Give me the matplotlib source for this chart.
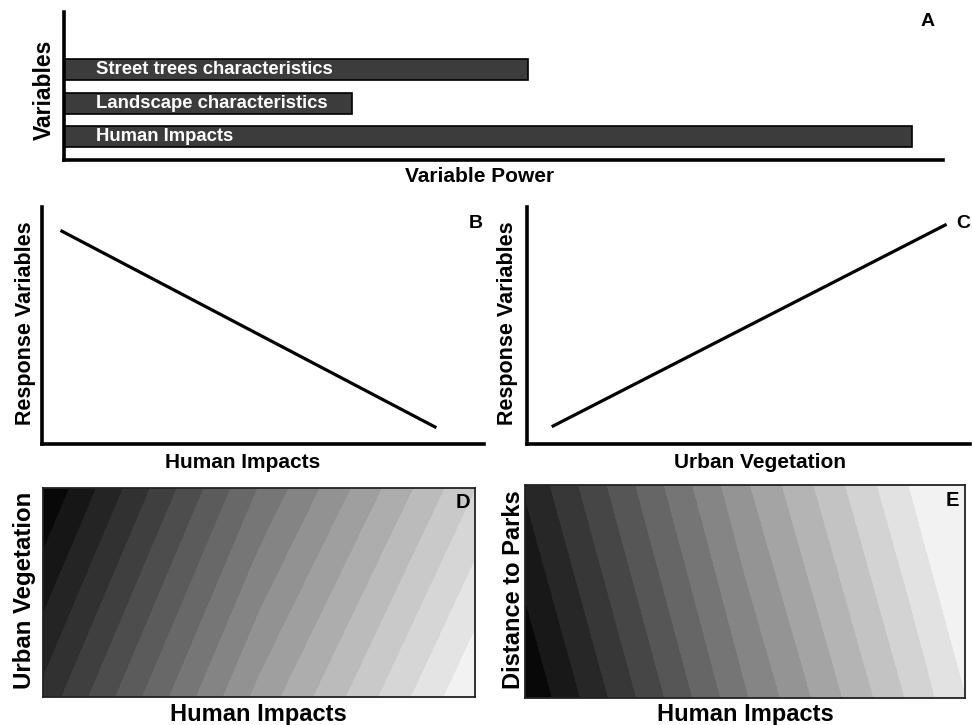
import numpy as np
import matplotlib
matplotlib.use("Agg")
import matplotlib.pyplot as plt
from matplotlib.colors import LinearSegmentedColormap

# panel A - bars
variables = ["Human Impacts", "Landscape characteristics", "Street trees characteristics"]
variable_power = [96.5, 32.8, 52.8]

# panel B / C - conceptual lines
b_x = [0.045, 0.889]
b_y = [0.898, 0.072]
c_x = [0.059, 0.944]
c_y = [0.076, 0.924]

# panel D - surface in band units, read at a few columns
d_x = [0, 0.5, 1]
d_y = [0, 1]
d_z = [[3.3, 11.32, 17.95],   # bottom row
       [0.0, 8.04, 14.95]]    # top row

# panel E - surface in band units
e_x = [0, 0.5, 0.873, 1]
e_y = [0, 1]
e_z = [[0.02, 7.86, 13.13, 14.97],
       [2.12, 9.83, 15.0, 15.95]]

W, H = 972, 725
bold = ["Liberation Sans", "DejaVu Sans"]
greys = LinearSegmentedColormap.from_list("greys", ["#080808", "#f2f2f2"])


def box(l, t, r, b):
    return [l / W, 1 - b / H, (r - l) / W, (b - t) / H]


def ftext(x, y, s, **kw):
    fig.text(x / W, 1 - y / H, s, ha="center", va="center", fontweight="bold",
             family=bold, **kw)


fig = plt.figure(figsize=(9.72, 7.25), dpi=100)

# A
axA = fig.add_axes(box(64, 12, 943, 160))
ypos = np.arange(len(variables))
axA.barh(ypos, variable_power, height=0.63, color="#3c3c3c", edgecolor="black", linewidth=1.2)
for i, name in enumerate(variables):
    axA.text(3.6, ypos[i], name, color="white", fontsize=13.3, fontweight="bold",
             family=bold, va="center", ha="left")
axA.set_xlim(0, 100)
axA.set_ylim(-0.70, 3.72)

# B
axB = fig.add_axes(box(42, 207, 484, 444))
axB.plot(b_x, b_y, color="black", lw=2.3)
axB.set_xlim(0, 1)
axB.set_ylim(0, 1)

# C
axC = fig.add_axes(box(527, 207, 970, 444))
axC.plot(c_x, c_y, color="black", lw=2.3)
axC.set_xlim(0, 1)
axC.set_ylim(0, 1)

for ax in (axA, axB, axC):
    ax.set_xticks([])
    ax.set_yticks([])
    for s in ("top", "right"):
        ax.spines[s].set_visible(False)
    for s in ("left", "bottom"):
        ax.spines[s].set_linewidth(2.6)

# D
axD = fig.add_axes(box(43, 488, 475, 697))
axD.contourf(d_x, d_y, d_z, levels=np.arange(0, 19, 1), cmap=greys, vmin=0.5, vmax=17.5)
axD.set_xlim(0, 1)
axD.set_ylim(0, 1)
# E
axE = fig.add_axes(box(525, 485, 965, 698))
axE.contourf(e_x, e_y, e_z, levels=np.arange(0, 17, 1), cmap=greys, vmin=0.5, vmax=15.5)
axE.set_xlim(0, 1)
axE.set_ylim(0, 1)
for ax in (axD, axE):
    ax.set_xticks([])
    ax.set_yticks([])
    for s in ax.spines.values():
        s.set_linewidth(1.3)
        s.set_color("#222222")

# labels
ftext(480, 176, "Variable Power", fontsize=15)
ftext(44, 90, "Variables", fontsize=16.5, rotation=90)
ftext(928, 22, "A", fontsize=14)

ftext(25, 323, "Response Variables", fontsize=15.5, rotation=90)
ftext(243, 462, "Human Impacts", fontsize=15)
ftext(476, 223, "B", fontsize=14)

ftext(508, 323, "Response Variables", fontsize=15.5, rotation=90)
ftext(760, 462, "Urban Vegetation", fontsize=15)
ftext(963, 223, "C", fontsize=14)

ftext(25, 590, "Urban Vegetation", fontsize=17.3, rotation=90)
ftext(258, 714, "Human Impacts", fontsize=17)
ftext(463, 502, "D", fontsize=14.5)

ftext(513, 590, "Distance to Parks", fontsize=17, rotation=90)
ftext(745, 714, "Human Impacts", fontsize=17)
ftext(952, 500, "E", fontsize=14.5)

fig.savefig("out.png", dpi=100)
